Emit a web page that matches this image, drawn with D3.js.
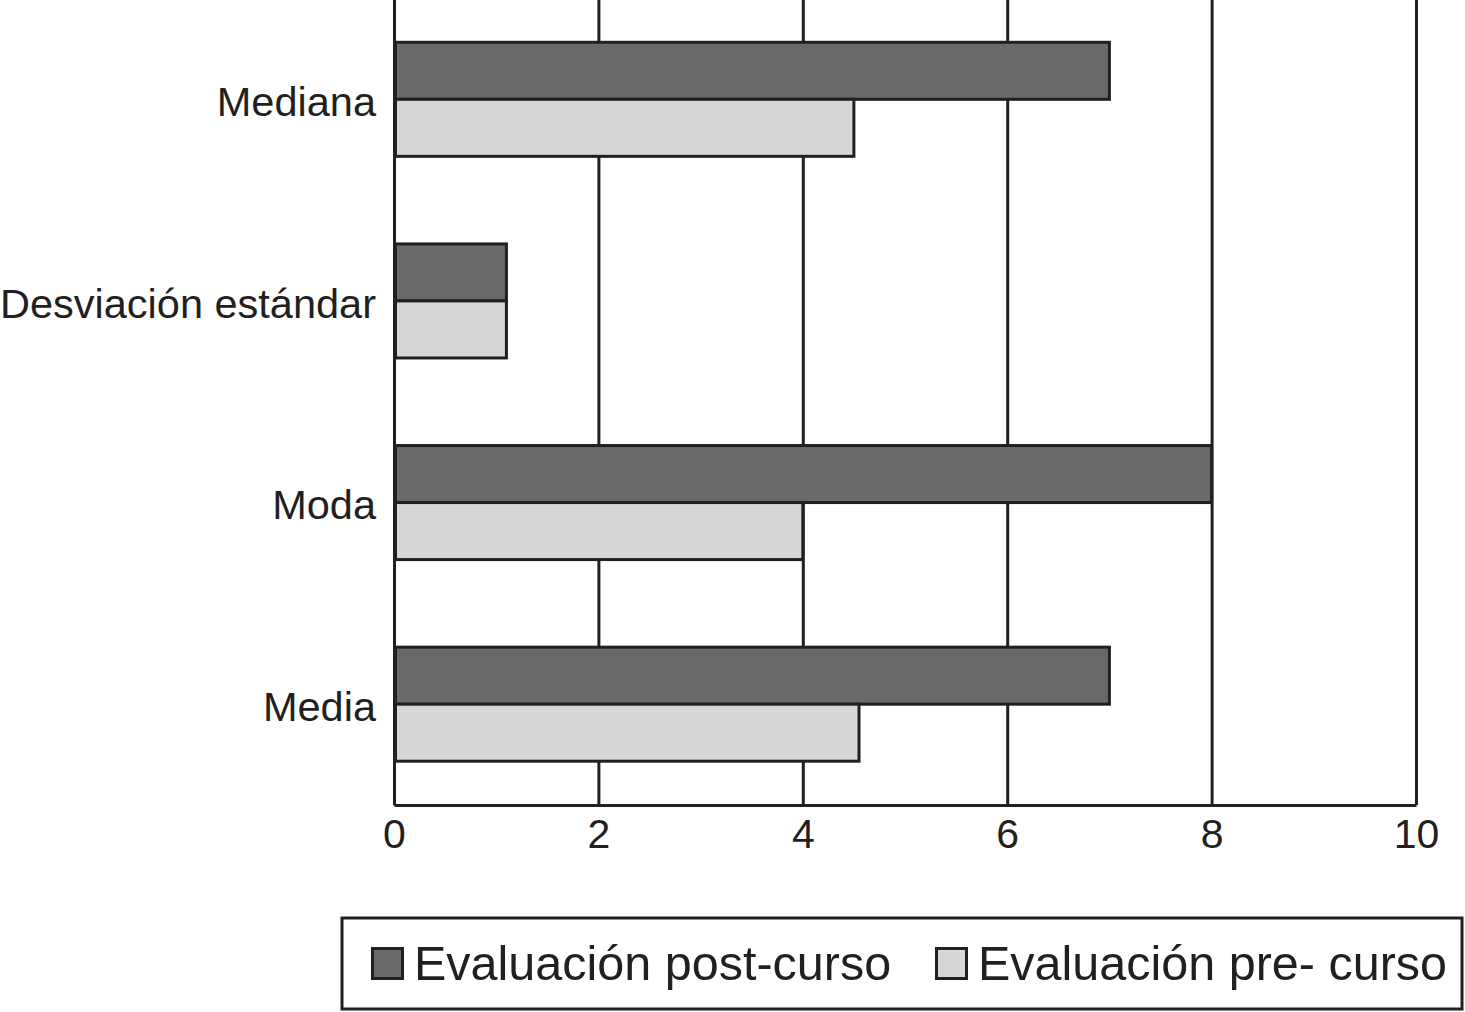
<!DOCTYPE html>
<html>
<head>
<meta charset="utf-8">
<script src="https://cdn.jsdelivr.net/npm/d3@7"></script>
<style>
  html, body { margin: 0; padding: 0; background: #ffffff; }
  svg { display: block; }
</style>
</head>
<body>
<svg id="chart" width="1465" height="1012"></svg>
<script>
// ---- data ----
const categories = ["Mediana", "Desviación estándar", "Moda", "Media"];
const seriesNames = ["Evaluación post-curso", "Evaluación pre- curso"];
const postCurso = [7, 1.1, 8, 7];
const preCurso = [4.5, 1.1, 4, 4.55];
const xTicks = [0, 2, 4, 6, 8, 10];
const xDomain = [0, 10];

// ---- styles ----
const ink = "#231f20";
const colors = ["#68696b", "#d6d7d9"];
const font = "'Liberation Sans', Arial, Helvetica, sans-serif";

const svg = d3.select("#chart");
const plotLeft = 394, plotRight = 1416, plotTop = -1.5, plotBottom = 805;

const x = d3.scaleLinear().domain(xDomain).range([plotLeft, plotRight]);
const y = d3.scaleBand().domain(categories).range([plotTop, plotBottom]).paddingInner(0).paddingOuter(0);
const ySub = d3.scaleBand().domain(seriesNames).range([0, y.bandwidth()]).paddingInner(0).paddingOuter(0.768);

const rows = categories.map((c, i) => ({ cat: c, values: [postCurso[i], preCurso[i]] }));

// gridlines
const grid = svg.append("g")
  .attr("transform", `translate(0,${plotBottom})`)
  .call(d3.axisBottom(x).tickValues(xTicks).tickSize(-(plotBottom - plotTop)).tickFormat(""));
grid.select(".domain").remove();
grid.selectAll("line").attr("stroke", ink).attr("stroke-width", 3);

// bars
const groups = svg.append("g").selectAll("g").data(rows).join("g")
  .attr("transform", d => `translate(0,${y(d.cat)})`);
groups.selectAll("rect")
  .data(d => d.values.map((v, j) => ({ v, name: seriesNames[j], j })))
  .join("rect")
  .attr("x", x(0) + 1.5)
  .attr("y", d => ySub(d.name))
  .attr("width", d => x(d.v) - x(0) - 1.5)
  .attr("height", ySub.bandwidth())
  .attr("fill", d => colors[d.j])
  .attr("stroke", ink)
  .attr("stroke-width", 3);

// left axis line + category labels
const yAxis = svg.append("g")
  .attr("transform", `translate(${plotLeft},0)`)
  .call(d3.axisLeft(y).tickSize(0).tickPadding(18));
yAxis.select(".domain").attr("stroke", ink).attr("stroke-width", 3);
yAxis.selectAll("text")
  .attr("fill", ink)
  .attr("font-family", font)
  .attr("font-size", 41.5)
  .attr("dy", "0.4em");

// bottom axis
const xAxis = svg.append("g")
  .attr("transform", `translate(0,${plotBottom})`)
  .call(d3.axisBottom(x).tickValues(xTicks).tickSize(0).tickSizeOuter(0).tickPadding(14).tickFormat(d3.format("d")));
xAxis.select(".domain").attr("stroke", ink).attr("stroke-width", 3);
xAxis.selectAll("text")
  .attr("fill", ink)
  .attr("font-family", font)
  .attr("font-size", 41);

// legend
const legend = svg.append("g");
legend.append("rect")
  .attr("x", 342).attr("y", 918).attr("width", 1120).attr("height", 91)
  .attr("fill", "#ffffff").attr("stroke", ink).attr("stroke-width", 3);
const legendX = [371, 935];
const items = legend.selectAll("g.item").data(seriesNames).join("g")
  .attr("class", "item")
  .attr("transform", (d, i) => `translate(${legendX[i]},947)`);
items.append("rect")
  .attr("x", 1.5).attr("y", 1.5).attr("width", 30).attr("height", 30)
  .attr("fill", (d, i) => colors[i]).attr("stroke", ink).attr("stroke-width", 3);
items.append("text")
  .attr("x", 43).attr("y", 33)
  .attr("fill", ink)
  .attr("font-family", font)
  .attr("font-size", 48.5)
  .text(d => d);
</script>
</body>
</html>
